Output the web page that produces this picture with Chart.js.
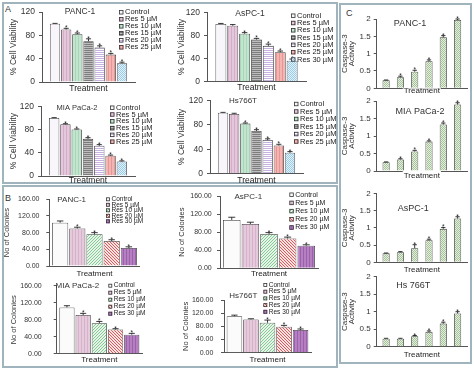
<!DOCTYPE html>
<html><head><meta charset="utf-8">
<script src="https://cdn.jsdelivr.net/npm/chart.js@4"></script>
<style>
body{margin:0;background:#fff;}
#fig{position:relative;width:474px;height:370px;overflow:hidden;font-family:'Liberation Sans',Arial,sans-serif;background:#fff;}
canvas{position:absolute;left:0;top:0;}
.box{position:absolute;border:2px solid #9fb4bc;box-sizing:border-box;}
.lab{position:absolute;font-size:9px;color:#333;line-height:9px;}
</style></head>
<body><div id="fig">
<div class="box" style="left:2px;top:2px;width:336px;height:182px"></div>
<div class="box" style="left:2px;top:185px;width:336px;height:183px"></div>
<div class="box" style="left:339px;top:3px;width:133px;height:361px"></div>
<div class="lab" style="left:5px;top:5px">A</div>
<div class="lab" style="left:5px;top:194px">B</div>
<div class="lab" style="left:346px;top:9px">C</div>
</div>
<script>
// ---------- data ----------
const category = ['Treatment'];
const treatA = ['Control','Res 5 µM','Res 10 µM','Res 15 µM','Res 20 µM','Res 25 µM','Res 30 µM'];
const treatB = ['Control','Res 5 µM','Res 10 µM','Res 20 µM','Res 30 µM'];
const treatC = ['Control','Res 5 µM','Res 10 µM','Res 15 µM','Res 20 µM','Res 25 µM'];
const ticksA = [0,20,40,60,80,100,120];
const ticksB = [0,40,80,120,160];
const ticksC = [0,0.5,1,1.5,2];

const viabPANC1 = [100,90,82,70,59,47,32];
const viabPANC1Err = [0.5,2,2,4,3,2,2];
const viabPANC1Sig = [0,1,1,1,1,1,1];
const viabAsPC1 = [100,97,83,73,62,51,36];
const viabAsPC1Err = [1,2,2,2,3,2,3];
const viabAsPC1Sig = [0,0,1,1,1,1,1];
const viabMIA = [100,89,80,64,52,35,25];
const viabMIAErr = [0.5,1,1,2,2,1,1];
const viabMIASig = [0,1,1,1,1,1,1];
const viabHs = [100,98,82,70,55,46,34];
const viabHsErr = [0.5,1,1,2,2,2,2];
const viabHsSig = [0,0,1,1,1,1,1];

const colPANC1 = [104,90,76,60,43];
const colPANC1Err = [4,3,4,3,3];
const colPANC1Sig = [0,1,1,1,1];
const colAsPC1 = [107,98,76,66,50];
const colAsPC1Err = [6,4,3,3,2];
const colAsPC1Sig = [0,0,1,1,1];
const colMIA = [109,91,72,57,45];
const colMIAErr = [4,4,4,2,3];
const colMIASig = [0,1,1,1,1];
const colHs = [111,101,91,79,69];
const colHsErr = [3,2,8,4,3];
const colHsSig = [0,0,1,1,1];

const caspPANC1 = [0.23,0.32,0.48,0.78,1.47,1.97];
const caspPANC1Err = [0.01,0.03,0.04,0.04,0.05,0.03];
const caspPANC1Sig = [0,1,1,1,1,1];
const caspMIA = [0.25,0.33,0.56,0.84,1.33,1.9];
const caspMIAErr = [0.01,0.02,0.03,0.02,0.04,0.05];
const caspMIASig = [0,1,1,1,1,1];
const caspAsPC1 = [0.26,0.29,0.41,0.64,0.97,1.27];
const caspAsPC1Err = [0.01,0.02,0.1,0.03,0.04,0.05];
const caspAsPC1Sig = [0,0,1,1,1,1];
const caspHs = [0.23,0.23,0.3,0.42,0.66,0.95];
const caspHsErr = [0.01,0.01,0.02,0.03,0.04,0.05];
const caspHsSig = [0,0,1,1,1,1];

const legendA6 = treatA.slice(0,6);
const legendA7 = treatA.slice(0,7);
const legendB = treatB.slice();

// ---------- styling ----------
const FONT = "'Liberation Sans', Arial, sans-serif";
const W = 474, H = 370, XH = 14;
function pat(bg, fg, kind, size) {
  size = size || 3;
  const c = document.createElement('canvas'); c.width = c.height = size;
  const g = c.getContext('2d');
  g.fillStyle = bg; g.fillRect(0,0,size,size);
  g.fillStyle = fg;
  if (kind === 'v') g.fillRect(0,0,1,size);
  else if (kind === 'h') g.fillRect(0,0,size,1);
  else if (kind === 'check') { const h=size/2; g.fillRect(0,0,h,h); g.fillRect(h,h,h,h); }
  else if (kind === 'd1') { for (let i=0;i<size;i++) g.fillRect(i,size-1-i,1,1); }
  else if (kind === 'd2') { for (let i=0;i<size;i++) g.fillRect(i,i,1,1); }
  return document.createElement('canvas').getContext('2d').createPattern(c,'repeat');
}
const fillsA = [
  '#f8f5fb',
  pat('#e4c7da','#d3acc8','v',3),
  pat('#c3e5cf','#a7d6b8','v',3),
  pat('#bdbdbd','#7d7d7d','h',2),
  pat('#ffffff','#c6b2de','h',2),
  pat('#f4b4b2','#e69795','v',3),
  pat('#e2f1fa','#9ccbe8','check',2)
];
const fillsB = [
  '#fbfbfb',
  pat('#e5cadc','#d6b2cb','v',3),
  pat('#e6f5e8','#84c995','d1',3),
  pat('#fbe3e3','#df5a5a','d2',3),
  pat('#b57fc2','#9a62ab','v',3)
];
const fillC = pat('#e4efdc','#a6c29c','check',2);
const fillsC = treatC.map(() => fillC);

// ---------- decoration plugin (error bars, asterisks, panel title, legend) ----------
const decor = {
  id: 'decor',
  afterDatasetsDraw(chart, args, o) {
    const ctx = chart.ctx, ys = chart.scales.y;
    ctx.save();
    chart.data.datasets.forEach((ds, i) => {
      const el = chart.getDatasetMeta(i).data[0];
      if (!el) return;
      const v = ds.data[0], e = ds.err || 0;
      const yTop = ys.getPixelForValue(v + e);
      const cap = el.width * o.cap;
      ctx.strokeStyle = '#222'; ctx.lineWidth = 0.9;
      ctx.beginPath();
      ctx.moveTo(el.x, el.y); ctx.lineTo(el.x, yTop);
      ctx.moveTo(el.x - cap, yTop); ctx.lineTo(el.x + cap, yTop);
      ctx.stroke();
      if (ds.sig) {
        ctx.fillStyle = '#222';
        ctx.font = o.starSize + 'px ' + FONT;
        ctx.textAlign = 'center'; ctx.textBaseline = 'alphabetic';
        ctx.fillText('*', el.x, yTop + o.starDy);
      }
    });
    if (o.title) {
      ctx.fillStyle = '#333';
      ctx.font = o.title.size + 'px ' + FONT;
      ctx.textAlign = 'center'; ctx.textBaseline = 'middle';
      ctx.fillText(o.title.text, o.title.x, o.title.y);
    }
    if (o.legend) {
      const L = o.legend;
      ctx.font = L.font + 'px ' + FONT;
      ctx.textAlign = 'left'; ctx.textBaseline = 'middle';
      L.labels.forEach((t, i) => {
        const ds = chart.data.datasets[i];
        const y = L.y + i * L.step;
        ctx.fillStyle = ds.backgroundColor;
        ctx.fillRect(L.x, y - L.box/2, L.box, L.box);
        ctx.strokeStyle = '#333'; ctx.lineWidth = 0.8;
        ctx.strokeRect(L.x + 0.5, y - L.box/2 + 0.5, L.box - 1, L.box - 1);
        ctx.fillStyle = '#222';
        ctx.fillText(t, L.x + L.box + 1.5, y);
      });
    }
    ctx.restore();
  }
};

function mk(s) {
  const cv = document.createElement('canvas');
  cv.width = W; cv.height = H;
  document.getElementById('fig').appendChild(cv);
  const [l, t, r, b] = s.area;
  const lh = s.yTitleFont * s.yTitleLH;
  const padL = s.yTitleX - lh/2;
  const yW = l - padL;
  new Chart(cv, {
    type: 'bar',
    data: {
      labels: category,
      datasets: s.values.map((v, i) => ({
        label: s.labels[i], data: [v], err: s.err[i], sig: s.sig[i],
        backgroundColor: s.fills[i], borderColor: '#3a3a3a', borderWidth: 0.8,
        categoryPercentage: s.cat, barPercentage: s.barPct
      }))
    },
    options: {
      responsive: false, animation: false, devicePixelRatio: 1,
      layout: { padding: { left: padL, top: t, right: W - r, bottom: H - b - XH } },
      plugins: {
        legend: { display: false }, tooltip: { enabled: false },
        decor: { cap: s.capFrac, starSize: s.starSize, starDy: s.starDy, title: s.title, legend: s.legend }
      },
      scales: {
        x: {
          offset: true,
          grid: { display: false, drawTicks: false },
          border: { display: true, color: '#555', width: 1 },
          ticks: { font: { size: s.xFont, family: FONT }, color: '#222', padding: s.xPad,
                   showLabelBackdrop: !!s.backdrop, backdropColor: '#fff', backdropPadding: 1 },
          afterFit: sc => { sc.height = XH; }
        },
        y: {
          min: 0, max: s.ticks[s.ticks.length - 1],
          grid: { display: true, drawOnChartArea: false, drawTicks: true, tickLength: 3, color: '#555' },
          border: { display: true, color: '#555', width: 1 },
          afterBuildTicks: sc => { sc.ticks = s.ticks.map(v => ({ value: v })); },
          ticks: { font: { size: s.tickFont, family: FONT }, color: '#333', padding: s.yPad,
                   callback: v => s.fmt(v) },
          title: { display: true, text: s.yTitle, color: '#333', padding: 0,
                   font: { size: s.yTitleFont, family: FONT, lineHeight: s.yTitleLH } },
          afterFit: sc => { sc.width = yW; }
        }
      }
    },
    plugins: [decor]
  });
}

const fmtInt = v => String(v);
const fmt2 = v => v.toFixed(2);

const baseA = { labels: treatA, fills: fillsA, ticks: ticksA, fmt: fmtInt, yTitle: '% Cell Viability',
  yTitleFont: 8.5, yTitleLH: 1.2, tickFont: 8.5, yPad: 4, xFont: 8.5, cat: 0.84, barPct: 0.92,
  capFrac: 0.25, starSize: 6.5, starDy: 2 };
const baseB = { labels: treatB, fills: fillsB, ticks: ticksB, fmt: fmt2, yTitle: 'No of Colonies',
  yTitleFont: 7.5, yTitleLH: 1.2, tickFont: 7, xFont: 8, cat: 0.95, barPct: 0.94,
  capFrac: 0.2, starSize: 6.5, starDy: 2 };
const baseC = { labels: treatC, fills: fillsC, ticks: ticksC, fmt: fmtInt, yTitle: ['Caspase-3','Activity'],
  yTitleFont: 8, yTitleLH: 0.85, tickFont: 8, yPad: 3, xFont: 8, cat: 0.95, barPct: 0.5, backdrop: true,
  capFrac: 0.3, starSize: 6.5, starDy: 2 };

// Panel A
mk(Object.assign({}, baseA, { values: viabPANC1, err: viabPANC1Err, sig: viabPANC1Sig,
  area: [42, 12, 135, 82], yTitleX: 14, xPad: 2,
  title: { text: 'PANC-1', x: 80, y: 12, size: 8.5 },
  legend: { labels: legendA6, x: 119, y: 12.3, step: 7, font: 7.5, box: 4.5 } }));
mk(Object.assign({}, baseA, { values: viabAsPC1, err: viabAsPC1Err, sig: viabAsPC1Sig,
  area: [207, 12.5, 306, 81.5], yTitleX: 181.7, xPad: 1,
  title: { text: 'AsPC-1', x: 250, y: 14, size: 8.5 },
  legend: { labels: legendA7, x: 291, y: 15.7, step: 7.3, font: 7.5, box: 4.5 } }));
mk(Object.assign({}, baseA, { values: viabMIA, err: viabMIAErr, sig: viabMIASig,
  area: [41, 106.3, 135, 176], yTitleX: 14, xPad: 0,
  title: { text: 'MIA PaCa-2', x: 77, y: 107.7, size: 7.5 },
  legend: { labels: legendA6, x: 110, y: 107.7, step: 6.8, font: 7.5, box: 4.5 } }));
mk(Object.assign({}, baseA, { values: viabHs, err: viabHsErr, sig: viabHsSig,
  area: [210, 100.5, 303, 173.5], yTitleX: 181.7, xPad: 2,
  title: { text: 'Hs766T', x: 243, y: 100.7, size: 8 },
  legend: { labels: legendA6, x: 294, y: 104, step: 7.5, font: 7.5, box: 4.5 } }));

// Panel B
mk(Object.assign({}, baseB, { values: colPANC1, err: colPANC1Err, sig: colPANC1Sig,
  area: [49.3, 199.3, 139.7, 266], yTitleX: 6.7, yPad: 6.8, xPad: 3,
  title: { text: 'PANC-1', x: 71.7, y: 199.3, size: 8 },
  legend: { labels: legendB, x: 106, y: 199.3, step: 5.5, font: 6.5, box: 4 } }));
mk(Object.assign({}, baseB, { values: colAsPC1, err: colAsPC1Err, sig: colAsPC1Sig,
  area: [220, 196, 318, 268.3], yTitleX: 181.7, yPad: 5.3, xPad: 1,
  title: { text: 'AsPC-1', x: 248.3, y: 196.7, size: 8 },
  legend: { labels: legendB, x: 289.3, y: 194.7, step: 8.2, font: 7, box: 4.5 } }));
mk(Object.assign({}, baseB, { values: colMIA, err: colMIAErr, sig: colMIASig,
  area: [56.7, 285.7, 142, 354], yTitleX: 14, yPad: 12, xPad: 1.2,
  title: { text: 'MIA PaCa-2', x: 77.3, y: 285.7, size: 8 },
  legend: { labels: legendB, x: 108.3, y: 285.7, step: 7, font: 6.5, box: 4 } }));
mk(Object.assign({}, baseB, { values: colHs, err: colHsErr, sig: colHsSig,
  area: [224, 300, 311, 352.7], yTitleX: 186, yPad: 7.7, xPad: 2.5,
  title: { text: 'Hs766T', x: 243.3, y: 296, size: 8 },
  legend: { labels: legendB, x: 263.3, y: 285, step: 6.7, font: 6.5, box: 4 } }));

// Panel C
mk(Object.assign({}, baseC, { values: caspPANC1, err: caspPANC1Err, sig: caspPANC1Sig,
  area: [376.7, 19, 467, 88.3], yTitleX: 345, xPad: -2,
  title: { text: 'PANC-1', x: 410, y: 24, size: 9 } }));
mk(Object.assign({}, baseC, { values: caspMIA, err: caspMIAErr, sig: caspMIASig,
  area: [376.7, 101, 467, 171], yTitleX: 345, xPad: 0,
  title: { text: 'MIA PaCa-2', x: 420, y: 111.7, size: 9 } }));
mk(Object.assign({}, baseC, { values: caspAsPC1, err: caspAsPC1Err, sig: caspAsPC1Sig,
  area: [376.7, 193.3, 467, 262.3], yTitleX: 345, xPad: 3,
  title: { text: 'AsPC-1', x: 413.3, y: 209, size: 9 } }));
mk(Object.assign({}, baseC, { values: caspHs, err: caspHsErr, sig: caspHsSig,
  area: [376.7, 276.7, 467, 346.7], yTitleX: 345, xPad: 3.5,
  title: { text: 'Hs 766T', x: 413.3, y: 285.7, size: 9 } }));
</script>
</body></html>
